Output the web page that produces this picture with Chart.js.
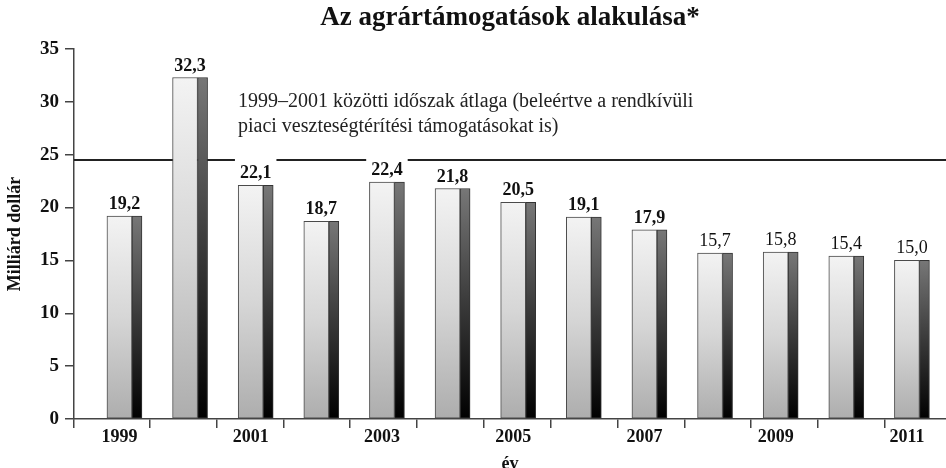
<!DOCTYPE html>
<html>
<head>
<meta charset="utf-8">
<script src="https://cdn.jsdelivr.net/npm/chart.js@4.4.1/dist/chart.umd.min.js"></script>
<style>
html,body{margin:0;padding:0;background:#fff}
#wrap{width:946px;height:468px;position:relative}
</style>
</head>
<body>
<div id="wrap"><canvas id="c"></canvas></div>
<script>
// ---- data ----
const years = ['1999','2000','2001','2002','2003','2004','2005','2006','2007','2008','2009','2010','2011'];
const values = [19.2, 32.3, 22.1, 18.7, 22.4, 21.8, 20.5, 19.1, 17.9, 15.7, 15.8, 15.4, 15.0];
const valueLabels = ['19,2','32,3','22,1','18,7','22,4','21,8','20,5','19,1','17,9','15,7','15,8','15,4','15,0'];
const yearTickLabels = ['1999','','2001','','2003','','2005','','2007','','2009','','2011'];
const averageValue = 24.5;
const titleText = 'Az agrártámogatások alakulása*';
const yAxisTitle = 'Milliárd dollár';
const xAxisTitle = 'év';
const noteLines = ['1999–2001 közötti időszak átlaga (beleértve a rendkívüli', 'piaci veszteségtérítési támogatásokat is)'];

// ---- style ----
const SERIF = "'Liberation Serif', 'Times New Roman', Times, serif";
const labelBold = [true,true,true,true,true,true,true,true,true,false,false,false,false];
const X_MIN_OFFSET = -0.883, X_MAX_OFFSET = 12.405;
const FRONT_W = 25, SIDE_W = 10;
const LABEL_SHIFT = 0.19;
const TICK_START = 0.27, TICK_STEP = 1.0185;
const first = +years[0];
const xMin = first + X_MIN_OFFSET, xMax = first + X_MAX_OFFSET;

function faceGradient(c, stops) {
  const chart = c.chart;
  const v = values[c.dataIndex];
  if (!chart.chartArea || v === undefined || !chart.scales.y) return stops[0][1];
  const ys = chart.scales.y;
  const top = ys.getPixelForValue(v), bot = ys.getPixelForValue(0);
  const g = chart.ctx.createLinearGradient(0, top, 0, bot);
  stops.forEach(s => g.addColorStop(s[0], s[1]));
  return g;
}

const labelPlugin = {
  id: 'valueLabels',
  afterDatasetsDraw(chart) {
    const front = chart.getDatasetMeta(0), side = chart.getDatasetMeta(1);
    const ctx = chart.ctx;
    ctx.save();
    front.data.forEach((bar, i) => {
      const s = side.data[i];
      const left = bar.x - bar.width / 2, right = s.x + s.width / 2;
      const cx = (left + right) / 2;
      const base = bar.y - 7;
      ctx.font = (labelBold[i] ? 'bold ' : '') + '18px ' + SERIF;
      const w = ctx.measureText(valueLabels[i]).width;
      ctx.fillStyle = '#fff';
      ctx.fillRect(cx - w / 2 - 5, base - 20, w + 10, 24);
      ctx.fillStyle = '#111';
      ctx.textAlign = 'center';
      ctx.textBaseline = 'alphabetic';
      ctx.fillText(valueLabels[i], cx, base);
    });
    const a = chart.chartArea;
    ctx.font = '20px ' + SERIF;
    ctx.fillStyle = '#222';
    ctx.textAlign = 'left';
    ctx.fillText(noteLines[0], a.left + 164, a.top + 58);
    ctx.fillText(noteLines[1], a.left + 164, a.top + 83);
    ctx.restore();
  }
};

new Chart(document.getElementById('c'), {
  type: 'bar',
  data: {
    labels: years,
    datasets: [
      {
        data: values,
        barThickness: FRONT_W,
        backgroundColor: c => faceGradient(c, [[0,'#f3f3f3'],[0.5,'#d6d6d6'],[1,'#adadad']]),
        borderColor: '#4a4a4a',
        borderWidth: 1,
        borderSkipped: false,
        order: 0
      },
      {
        data: values,
        barThickness: SIDE_W,
        backgroundColor: c => faceGradient(c, [[0,'#777777'],[0.5,'#3a3a3a'],[1,'#000000']]),
        borderColor: '#333',
        borderWidth: 1,
        borderSkipped: false,
        order: 0
      },
      {
        type: 'line',
        data: [{x: xMin, y: averageValue}, {x: xMax, y: averageValue}],
        borderColor: '#222',
        borderWidth: 2,
        pointRadius: 0,
        fill: false,
        order: 5
      }
    ]
  },
  options: {
    responsive: true,
    maintainAspectRatio: false,
    animation: false,
    layout: {padding: {left: 0, right: 0, top: 0, bottom: 0}},
    plugins: {
      legend: {display: false},
      tooltip: {enabled: false},
      title: {
        display: true, text: titleText, fullSize: false,
        font: {family: SERIF, size: 27, weight: 'bold', lineHeight: 1.2},
        color: '#111',
        padding: {top: 1.8, bottom: 14.8}
      }
    },
    scales: {
      x: {
        type: 'linear', position: 'bottom', min: xMin, max: xMax, bounds: 'data',
        offset: false, weight: 0,
        afterBuildTicks: axis => {
          const t = [{value: xMin}];
          for (let k = 0; k < years.length - 1; k++) t.push({value: first + TICK_START + k * TICK_STEP});
          axis.ticks = t;
        },
        ticks: {display: false},
        grid: {display: true, offset: false, drawOnChartArea: false, drawTicks: true, tickLength: 9, color: '#444', lineWidth: 1.5},
        border: {display: true, color: '#444', width: 1.5}
      },
      x2: {
        type: 'linear', position: 'bottom', min: xMin, max: xMax, bounds: 'data',
        offset: false, weight: 1,
        afterBuildTicks: axis => { axis.ticks = years.map(y => ({value: +y - LABEL_SHIFT})); },
        ticks: {
          autoSkip: false, maxRotation: 0, minRotation: 0, padding: 0,
          font: {family: SERIF, size: 18, weight: 'bold', lineHeight: 1},
          color: '#111',
          callback: (v, i) => yearTickLabels[i]
        },
        grid: {display: false, drawTicks: false, tickLength: 0, offset: false},
        border: {display: false},
        title: {
          display: true, text: xAxisTitle,
          font: {family: SERIF, size: 18, weight: 'bold', lineHeight: 1},
          color: '#111',
          padding: {top: 9, bottom: -5}
        }
      },
      y: {
        min: 0, max: 35, position: 'left',
        ticks: {stepSize: 5, font: {family: SERIF, size: 19, weight: 'bold'}, color: '#111', padding: 6},
        grid: {drawOnChartArea: false, tickLength: 9, color: '#444', lineWidth: 1.5},
        border: {color: '#444', width: 1.5},
        title: {
          display: true, text: yAxisTitle,
          font: {family: SERIF, size: 18, weight: 'bold', lineHeight: 1.2},
          color: '#111',
          padding: {top: 5, bottom: 7.4}
        }
      }
    }
  },
  plugins: [labelPlugin]
});
</script>
</body>
</html>
